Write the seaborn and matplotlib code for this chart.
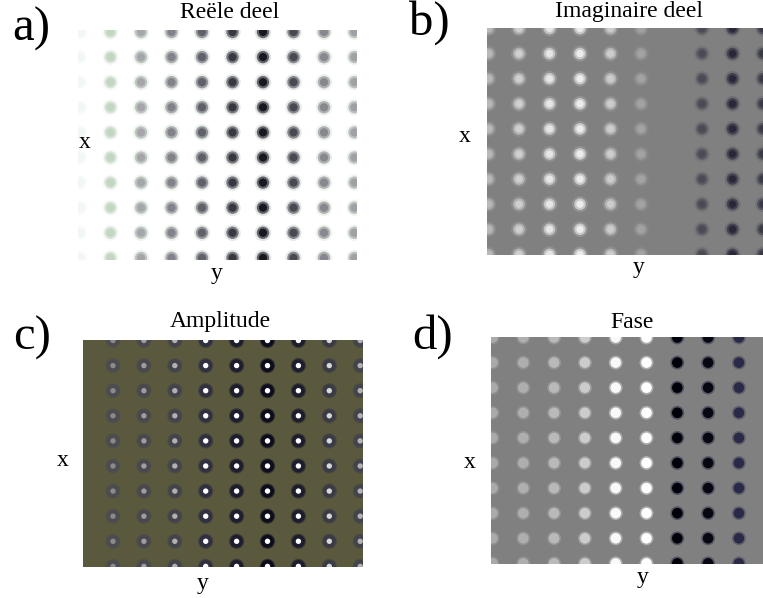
import numpy as np
import pandas as pd
import matplotlib
matplotlib.use("Agg")
import matplotlib.pyplot as plt
from matplotlib.colors import LinearSegmentedColormap, Normalize
import seaborn as sns

sns.set_theme(style="white")
plt.rcParams['font.family'] = ['Liberation Serif', 'DejaVu Serif']

# ---------------- data ----------------
panel_letters = ["a)", "b)", "c)", "d)"]
panel_titles = ["Reële deel", "Imaginaire deel", "Amplitude", "Fase"]
n_rows = 10
# per-column intensity of the dot lattice (same on every row)
real_vals = [0.04, 0.2, 0.38, 0.52, 0.66, 0.82, 0.95, 0.75, 0.5, 0.4]
imag_vals = [0.45, 0.62, 0.8, 0.85, 0.6, 0.28, 0.0, -0.45, -0.75, -0.6]
amp_vals = [0.3, 0.35, 0.4, 0.62, 0.8, 0.95, 0.8, 0.5, 0.4]
fase_vals = [0.33, 0.36, 0.45, 0.6, 0.95, 1.0, -1.0, -0.95, -0.7]

W, H = 763, 598
fig = plt.figure(figsize=(W / 100, H / 100), dpi=100)


def make_ax(left, top, right, bottom, face):
    ax = fig.add_axes([left / W, 1 - bottom / H, (right - left) / W, (bottom - top) / H])
    ax.set_facecolor(face)
    for s in ax.spines.values():
        s.set_visible(False)
    ax.set_xticks([])
    ax.set_yticks([])
    return ax


def lattice(vals):
    cols = np.arange(len(vals))
    rows = np.arange(n_rows)
    df = pd.DataFrame([(c, r, vals[c]) for r in rows for c in cols], columns=["col", "row", "val"])
    return df


def set_lims(ax, x0px, dxpx, left, right, y0px, dypx, top, bottom):
    ax.set_xlim((left - x0px) / dxpx, (right - x0px) / dxpx)
    ax.set_ylim((bottom - y0px) / dypx, (top - y0px) / dypx)


def layer(ax, df, colors, size, alpha=1.0):
    sns.scatterplot(data=df, x="col", y="row", c=colors, s=size, alpha=alpha,
                    linewidth=0, marker="o", ax=ax, legend=False)
    ax.set_xlabel("")
    ax.set_ylabel("")


def blurred(ax, df, cmap, norm, halo_scale, sizes=(140, 80, 35)):
    v = df["val"].to_numpy()
    layer(ax, df, [cmap(norm(x * halo_scale)) for x in v], sizes[0], 0.35)
    layer(ax, df, [cmap(norm(x * 0.8)) for x in v], sizes[1], 0.8)
    layer(ax, df, [cmap(norm(x)) for x in v], sizes[2], 1.0)


# ---- a) real part ----
ax = make_ax(78, 30, 357, 260, "white")
df = lattice(real_vals)
rcm = LinearSegmentedColormap.from_list(
    "r", [(0.0, "#ffffff"), (0.2, "#c2d6c2"), (0.38, "#a6a6aa"), (0.6, "#6e6e78"), (1.0, "#0c0c14")])
blurred(ax, df, rcm, Normalize(0, 1), 0.35)
set_lims(ax, 80, 30.5, 78, 357, 32, 25.1, 30, 260)

# ---- b) imaginary part ----
ax = make_ax(487, 28, 763, 255, "#808080")
df = lattice(imag_vals)
gcm = LinearSegmentedColormap.from_list("g", ["#0a0a22", "#808080", "#ffffff"])
blurred(ax, df, gcm, Normalize(-1, 1), 0.5, sizes=(130, 70, 28))
set_lims(ax, 488.5, 30.5, 487, 763, 28.5, 25.1, 28, 255)

# ---- c) amplitude ----
ax = make_ax(83, 340, 363, 567, "#5b593d")
df = lattice(amp_vals)
v = df["val"].to_numpy()
ring_cm = LinearSegmentedColormap.from_list("ring", ["#4c4c50", "#303040", "#0c0c1c"])
core_cm = LinearSegmentedColormap.from_list("core", ["#8a8a8a", "#ffffff"])
ring_n = Normalize(0.3, 0.95)
core_n = Normalize(0.3, 0.6)
layer(ax, df, [ring_cm(ring_n(x)) for x in v], 120, 0.55)
layer(ax, df, [ring_cm(ring_n(x)) for x in v], 85, 1.0)
layer(ax, df, [core_cm(core_n(x)) for x in v], 15, 1.0)
set_lims(ax, 113, 30.9, 83, 363, 340.5, 25.1, 340, 567)

# ---- d) phase ----
ax = make_ax(491, 337, 763, 564, "#808080")
df = lattice(fase_vals)
pcm = LinearSegmentedColormap.from_list(
    "p", [(0.0, "#000008"), (0.15, "#2a2a48"), (0.5, "#808080"), (1.0, "#ffffff")])
pn = Normalize(-1, 1)
v = df["val"].to_numpy()
layer(ax, df, [pcm(pn(x * 0.7)) for x in v], 100, 0.5)
layer(ax, df, [pcm(pn(x)) for x in v], 58, 1.0)
set_lims(ax, 492.5, 30.8, 491, 763, 337.5, 25.1, 337, 564)

# ---------------- text ----------------
def ftext(x, y, s, size, **kw):
    fig.text(x / W, 1 - y / H, s, fontsize=size, ha="center", va="center", color="black", **kw)

letter_pos = [(31, 29), (429, 23), (32, 338), (433, 337)]
title_pos = [(230, 12), (629, 11), (220, 322), (632, 322)]
x_pos = [(85, 142), (465, 137), (63, 461), (470, 462)]
y_pos = [(217, 273), (639, 268), (203, 583), (643, 578)]
for i in range(4):
    ftext(*letter_pos[i], panel_letters[i], 35)
    ftext(*title_pos[i], panel_titles[i], 17)
    ftext(*x_pos[i], "x", 17)
    ftext(*y_pos[i], "y", 17)

fig.savefig("out.png", dpi=100, facecolor="white")
